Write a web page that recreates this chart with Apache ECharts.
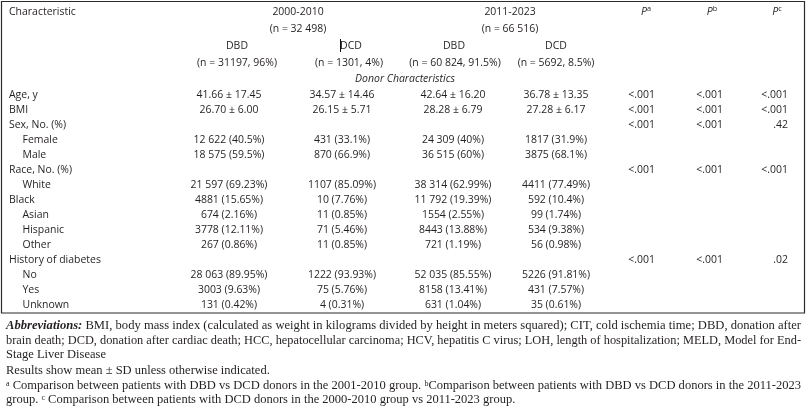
<!DOCTYPE html>
<html><head><meta charset="utf-8">
<script src="https://cdn.jsdelivr.net/npm/echarts@6/dist/echarts.min.js"></script>
<style>html,body{margin:0;padding:0;background:#fff}#c{width:809px;height:413px}</style>
</head><body><div id="c"></div>
<script>
// ---------- DATA ----------
const rowLabels = ['Age, y','BMI','Sex, No. (%)','Female','Male','Race, No. (%)','White','Black','Asian','Hispanic','Other','History of diabetes','No','Yes','Unknown'];
const rowIndented = [false,false,false,true,true,false,true,false,true,true,true,false,true,true,true];
const dbd2000 = ['41.66 ± 17.45','26.70 ± 6.00','','12 622 (40.5%)','18 575 (59.5%)','','21 597 (69.23%)','4881 (15.65%)','674 (2.16%)','3778 (12.11%)','267 (0.86%)','','28 063 (89.95%)','3003 (9.63%)','131 (0.42%)'];
const dcd2000 = ['34.57 ± 14.46','26.15 ± 5.71','','431 (33.1%)','870 (66.9%)','','1107 (85.09%)','10 (7.76%)','11 (0.85%)','71 (5.46%)','11 (0.85%)','','1222 (93.93%)','75 (5.76%)','4 (0.31%)'];
const dbd2011 = ['42.64 ± 16.20','28.28 ± 6.79','','24 309 (40%)','36 515 (60%)','','38 314 (62.99%)','11 792 (19.39%)','1554 (2.55%)','8443 (13.88%)','721 (1.19%)','','52 035 (85.55%)','8158 (13.41%)','631 (1.04%)'];
const dcd2011 = ['36.78 ± 13.35','27.28 ± 6.17','','1817 (31.9%)','3875 (68.1%)','','4411 (77.49%)','592 (10.4%)','99 (1.74%)','534 (9.38%)','56 (0.98%)','','5226 (91.81%)','431 (7.57%)','35 (0.61%)'];
const pA = ['<.001','<.001','<.001','','','<.001','','','','','','<.001','','',''];
const pB = ['<.001','<.001','<.001','','','<.001','','','','','','<.001','','',''];
const pC = ['<.001','<.001','.42','','','<.001','','','','','','.02','','',''];

const headerRowKeys = ['title','period n','group','group n','section'];
const firstHeader = 'Characteristic';
const periods = ['2000-2010','2011-2023'];
const periodN = ['(n = 32 498)','(n = 66 516)'];
const groups = ['DBD','DCD','DBD','DCD'];
const groupN = ['(n = 31197, 96%)','(n = 1301, 4%)','(n = 60 824, 91.5%)','(n = 5692, 8.5%)'];
const pLetters = ['a','b','c'];
const sectionTitle = 'Donor Characteristics';

const footnotes = [
  {segs:[['bi','Abbreviations:'],['n',' BMI, body mass index (calculated as weight in kilograms divided by height in meters squared); CIT, cold ischemia time; DBD, donation after']], justify:true},
  {segs:[['n','brain death; DCD, donation after cardiac death; HCC, hepatocellular carcinoma; HCV, hepatitis C virus; LOH, length of hospitalization; MELD, Model for End-']], justify:true},
  {segs:[['n','Stage Liver Disease']], justify:false},
  {segs:[['n','Results show mean ± SD unless otherwise indicated.']], justify:false},
  {segs:[['sup','a'],['n',' Comparison between patients with DBD vs DCD donors in the 2001-2010 group. '],['sup','b'],['n','Comparison between patients with DBD vs DCD donors in the 2011-2023']], justify:true},
  {segs:[['n','group. '],['sup','c'],['n',' Comparison between patients with DCD donors in the 2000-2010 group vs 2011-2023 group.']], justify:false}
];

// ---------- LAYOUT ----------
const INK = '#231f20';
const TFONT = '"Open Sans", sans-serif';
const TSIZE = 11.5;
const TSCALE = 0.91;
const labelX = 9, indentX = 22.5;
const dataColX = [229, 342, 453, 556];
const pColRight = [655, 723, 788];
const periodX = [298, 510];
const groupX = [237, 351, 454, 556];
const groupNX = [237, 349, 455, 556];
const pHeadX = [646, 712, 777];
const sectionX = 405;

// ---------- CELLS ----------
const headCells = [];
headCells.push({x:labelX, r:0, text:firstHeader, align:'left'});
periods.forEach((t,i)=>headCells.push({x:periodX[i], r:0, text:t, align:'center'}));
pLetters.forEach((l,i)=>headCells.push({x:pHeadX[i], r:0, text:'{p|P}{s|'+l+'}', align:'center', rich:true}));
periodN.forEach((t,i)=>headCells.push({x:periodX[i], r:1, text:t, align:'center'}));
groups.forEach((t,i)=>headCells.push({x:groupX[i], r:2, text:t, align:'center'}));
groupN.forEach((t,i)=>headCells.push({x:groupNX[i], r:3, text:t, align:'center'}));
headCells.push({x:sectionX, r:4, text:sectionTitle, align:'center', italic:true});

const bodyCells = [];
const dataCols = [dbd2000, dcd2000, dbd2011, dcd2011];
const pCols = [pA, pB, pC];
rowLabels.forEach((lab, r)=>{
  bodyCells.push({x: rowIndented[r] ? indentX : labelX, r, text: lab, align:'left'});
  dataCols.forEach((col,c)=>{ if (col[r]) bodyCells.push({x:dataColX[c], r, text:col[r], align:'center'}); });
  pCols.forEach((col,c)=>{ if (col[r]) bodyCells.push({x:pColRight[c], r, text:col[r], align:'right'}); });
});

function textRender(cells){
  return function(params, api){
    const cell = cells[params.dataIndex];
    const pt = api.coord([api.value(0), api.value(1)]);
    const style = {
      text: cell.text, x: 0, y: 0,
      align: cell.align, verticalAlign: 'middle',
      fill: INK, fontFamily: TFONT, fontSize: TSIZE,
      fontStyle: cell.italic ? 'italic' : 'normal'
    };
    if (cell.rich) {
      style.rich = {
        p: {fontFamily: TFONT, fontSize: TSIZE, fontStyle:'italic', fill: INK, lineHeight: 14},
        s: {fontFamily: TFONT, fontSize: 8, fill: INK, verticalAlign:'top', lineHeight: 10}
      };
    }
    return {type:'text', x: pt[0], y: pt[1], scaleX: TSCALE, style};
  };
}

// ---------- FOOTNOTES ----------
const FFONT = '"Liberation Serif", serif';
const FSIZE = 12.5;
const fontOf = {
  n: 'normal normal '+FSIZE+'px '+FFONT,
  bi: 'italic bold '+FSIZE+'px '+FFONT,
  sup: 'normal normal 8px '+FFONT
};
const cv = document.createElement('canvas').getContext('2d');
function segWidth(segs){
  let w = 0;
  segs.forEach(([k,t])=>{ cv.font = fontOf[k]; w += cv.measureText(t).width; });
  return w;
}
const footX = 6, footRight = 801;
const footY = [325.5, 340.5, 355, 370.5, 386, 400];
const footGraphics = footnotes.map((fn, i)=>{
  const txt = fn.segs.map(([k,t])=> k==='n' ? t : '{'+k+'|'+t+'}').join('');
  const w = segWidth(fn.segs);
  const sx = fn.justify ? (footRight - footX) / w : 1;
  return {
    type:'text', x: footX, y: footY[i], scaleX: sx, silent:true,
    style:{
      text: txt, fill: INK, fontFamily: FFONT, fontSize: FSIZE, verticalAlign:'middle',
      rich:{
        bi:{fontFamily:FFONT, fontSize:FSIZE, fontStyle:'italic', fontWeight:'bold', fill:INK},
        sup:{fontFamily:FFONT, fontSize:8, fill:INK, verticalAlign:'top', lineHeight:8}
      }
    }
  };
});

const chart = echarts.init(document.getElementById('c'), null, {renderer:'canvas'});
chart.setOption({
  animation:false,
  grid:[
    {left:0, right:0, top:3.6, height:83.75},
    {left:0, right:0, top:87.5, height:225}
  ],
  xAxis:[
    {gridIndex:0, type:'value', min:0, max:809, show:false},
    {gridIndex:1, type:'value', min:0, max:809, show:false}
  ],
  yAxis:[
    {gridIndex:0, type:'category', data:headerRowKeys, inverse:true, show:false},
    {gridIndex:1, type:'category', data:rowLabels, inverse:true, show:false}
  ],
  series:[
    {type:'custom', xAxisIndex:0, yAxisIndex:0, clip:false, silent:true,
     data: headCells.map(c=>[c.x, c.r]), renderItem: textRender(headCells)},
    {type:'custom', xAxisIndex:1, yAxisIndex:1, clip:false, silent:true,
     data: bodyCells.map(c=>[c.x, c.r]), renderItem: textRender(bodyCells)}
  ],
  graphic:[
    {type:'rect', shape:{x:1.5, y:1.5, width:803, height:311.5}, style:{fill:'none', stroke:'#2b2b2b', lineWidth:1.2}, silent:true},
    {type:'line', shape:{x1:340.5, y1:39, x2:340.5, y2:52}, style:{stroke:'#111', lineWidth:1}, silent:true}
  ].concat(footGraphics)
});
</script>
</body></html>
